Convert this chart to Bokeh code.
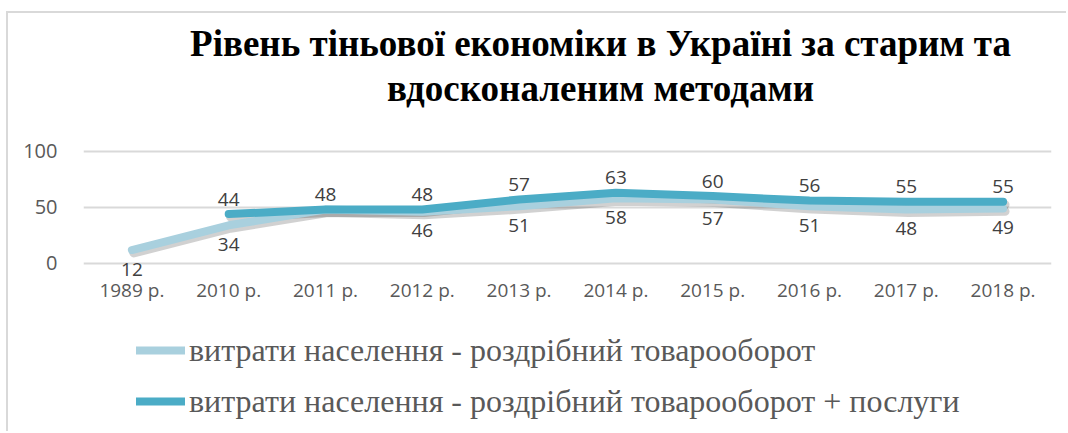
from bokeh.plotting import figure
from bokeh.models import (FactorRange, Range1d, FixedTicker, Legend, LegendItem,
                          Label, ColumnDataSource)
from bokeh.transform import dodge
from bokeh.core.properties import value
from bokeh.embed import file_html
from bokeh.resources import INLINE

# ---------------- data ----------------
years = ["1989 р.", "2010 р.", "2011 р.", "2012 р.", "2013 р.",
         "2014 р.", "2015 р.", "2016 р.", "2017 р.", "2018 р."]
retail = [12, 34, 48, 46, 51, 58, 57, 51, 48, 49]
retail_services = [None, 44, 48, 48, 57, 63, 60, 56, 55, 55]
y_ticks = [0, 50, 100]
title_lines = ["Рівень тіньової економіки в Україні за старим та",
               "вдосконаленим методами"]
series_names = ["витрати населення - роздрібний товарооборот",
                "витрати населення - роздрібний товарооборот + послуги"]

# ---------------- styles ----------------
LIGHT = "#A9D0DE"
DARK = "#4BACC6"
GRID = "#D9D9D9"
TICK_COLOR = "#595959"
LABEL_COLOR = "#404040"
NUM_FONT = "Open Sans"
SERIF = "'Liberation Serif', 'Times New Roman', serif"

# ---------------- sources ----------------
src1 = ColumnDataSource(dict(x=years, y=retail,
                             t=[("" if (s is not None and s == r) else str(r))
                                for r, s in zip(retail, retail_services)]))
x2 = [x for x, v in zip(years, retail_services) if v is not None]
y2 = [v for v in retail_services if v is not None]
src2 = ColumnDataSource(dict(x=x2, y=y2, t=[str(v) for v in y2]))

p = figure(width=1060, height=420, output_backend="svg", toolbar_location=None,
           x_range=FactorRange(*years, range_padding=0),
           y_range=Range1d(-151.4, 222.6),
           min_border_left=75, min_border_right=17,
           min_border_top=0, min_border_bottom=0)
p.margin = (11, 0, 0, 6)
p.styles = {"border-top": "2px solid #D9D9D9", "border-left": "2px solid #D9D9D9"}
p.outline_line_color = None
p.background_fill_color = "white"
p.border_fill_color = "white"

# axes
p.yaxis.ticker = FixedTicker(ticks=y_ticks)
p.yaxis.axis_line_color = None
p.yaxis.major_tick_line_color = None
p.yaxis.minor_tick_line_color = None
p.yaxis.major_label_standoff = 20
p.yaxis.major_label_text_font = NUM_FONT
p.yaxis.major_label_text_font_size = "20px"
p.yaxis.major_label_text_color = TICK_COLOR

p.xaxis.fixed_location = 0
p.xaxis.axis_line_color = None
p.xaxis.major_tick_line_color = None
p.xaxis.major_label_standoff = 8
p.xaxis.major_label_text_font = NUM_FONT
p.xaxis.major_label_text_font_size = "19px"
p.xaxis.major_label_text_color = TICK_COLOR

p.xgrid.grid_line_color = None
p.ygrid.ticker = FixedTicker(ticks=y_ticks)
p.ygrid.grid_line_color = GRID
p.ygrid.grid_line_width = 2

# shadows
for src in (src1, src2):
    p.line(x=dodge("x", 0.02, range=p.x_range), y=dodge("y", -2.6, range=p.y_range),
           source=src, line_color="black", line_alpha=0.18, line_width=9,
           line_cap="round", line_join="round")

r1 = p.line("x", "y", source=src1, line_color=LIGHT, line_width=8,
            line_cap="round", line_join="round")
r2 = p.line("x", "y", source=src2, line_color=DARK, line_width=8,
            line_cap="round", line_join="round")

# data labels
p.text("x", "y", text="t", source=src1, y_offset=19, text_align="center",
       text_baseline="middle", text_font=value(NUM_FONT), text_font_size="19px",
       text_color=LABEL_COLOR)
p.text("x", "y", text="t", source=src2, y_offset=-15, text_align="center",
       text_baseline="middle", text_font=value(NUM_FONT), text_font_size="19px",
       text_color=LABEL_COLOR)

# title
for txt, yy in zip(title_lines, (390, 345)):
    p.add_layout(Label(x=517, y=yy, x_units="screen", y_units="screen", text=txt,
                       text_align="center", text_baseline="alphabetic",
                       text_font=SERIF, text_font_style="bold",
                       text_font_size="37px", text_color="black"))

legend = Legend(items=[LegendItem(label=series_names[0], renderers=[r1]),
                       LegendItem(label=series_names[1], renderers=[r2])],
                location=(53, 12), orientation="vertical",
                glyph_width=49, glyph_height=40, label_height=40,
                label_standoff=4, spacing=11, padding=0, margin=0,
                label_text_font=SERIF, label_text_font_size="32px",
                label_text_color=TICK_COLOR,
                background_fill_alpha=0, border_line_alpha=0)
p.add_layout(legend, "center")

open("out.html", "w").write(file_html(p, INLINE))
